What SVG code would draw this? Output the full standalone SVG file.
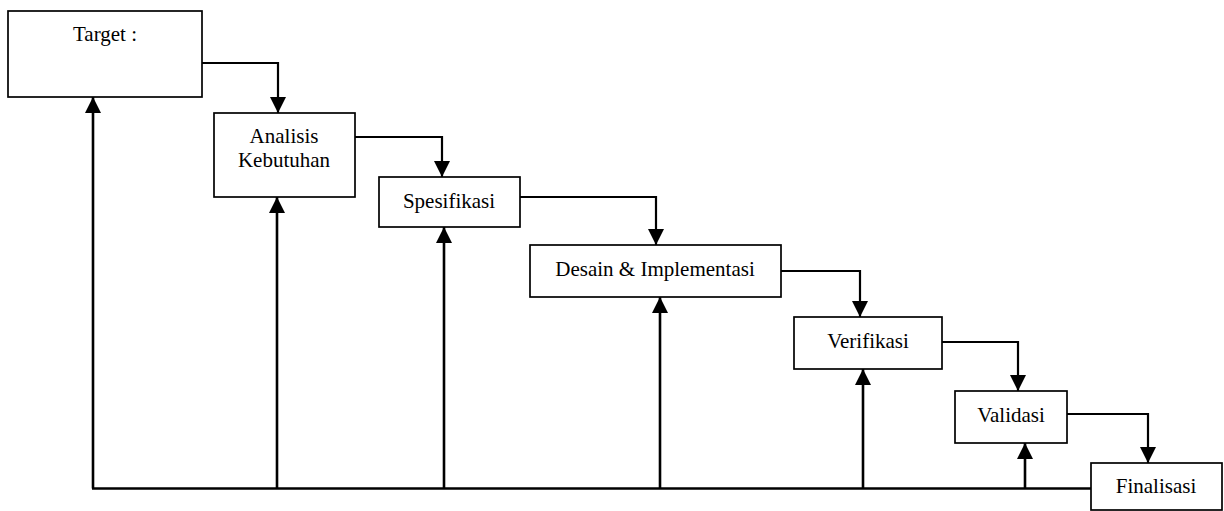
<svg xmlns="http://www.w3.org/2000/svg" width="1224" height="511" viewBox="0 0 1224 511">
<style>
.box{fill:#fff;stroke:#000;stroke-width:1.7}
.t{font-family:"Liberation Serif","Times New Roman",serif;font-size:21px;fill:#000;text-anchor:middle}
.c{fill:none;stroke:#000;stroke-width:2.2}
.v{fill:none;stroke:#000;stroke-width:2.6}
</style>
<defs>
<marker id="ah" markerUnits="userSpaceOnUse" markerWidth="16" markerHeight="16" viewBox="0 0 16 16" refX="16" refY="8" orient="auto">
<path d="M0,0 L16,8 L0,16 z" fill="#000"/>
</marker>
</defs>
<rect width="1224" height="511" fill="#fff"/>
<g id="connectors">
<path class="c" d="M202,63 H278 V113" marker-end="url(#ah)"/>
<path class="c" d="M355,137 H442 V177" marker-end="url(#ah)"/>
<path class="c" d="M520,197 H656 V245" marker-end="url(#ah)"/>
<path class="c" d="M781,271 H860 V317" marker-end="url(#ah)"/>
<path class="c" d="M942,342 H1018 V391" marker-end="url(#ah)"/>
<path class="c" d="M1067,414 H1148 V463" marker-end="url(#ah)"/>
<path class="v" d="M1091,488.5 H92"/>
<path class="v" d="M93,488.5 V97" marker-end="url(#ah)"/>
<path class="v" d="M277,488.5 V197" marker-end="url(#ah)"/>
<path class="v" d="M444,488.5 V227" marker-end="url(#ah)"/>
<path class="v" d="M660,488.5 V297" marker-end="url(#ah)"/>
<path class="v" d="M863,488.5 V369" marker-end="url(#ah)"/>
<path class="v" d="M1025,488.5 V443" marker-end="url(#ah)"/>
</g>
<g id="target"><rect class="box" x="8" y="11" width="194" height="86"/><text class="t" x="105" y="41">Target :</text></g>
<g id="analisis"><rect class="box" x="214" y="113" width="141" height="84"/><text class="t" x="284" y="143">Analisis</text><text class="t" x="284" y="167">Kebutuhan</text></g>
<g id="spesifikasi"><rect class="box" x="379" y="177" width="141" height="50"/><text class="t" x="449" y="208">Spesifikasi</text></g>
<g id="desain"><rect class="box" x="530" y="245" width="251" height="52"/><text class="t" x="655" y="276">Desain &amp; Implementasi</text></g>
<g id="verifikasi"><rect class="box" x="794" y="317" width="148" height="52"/><text class="t" x="868" y="348">Verifikasi</text></g>
<g id="validasi"><rect class="box" x="955" y="391" width="112" height="52"/><text class="t" x="1011" y="422">Validasi</text></g>
<g id="finalisasi"><rect class="box" x="1091" y="463" width="131" height="47"/><text class="t" x="1156" y="493">Finalisasi</text></g>
</svg>
